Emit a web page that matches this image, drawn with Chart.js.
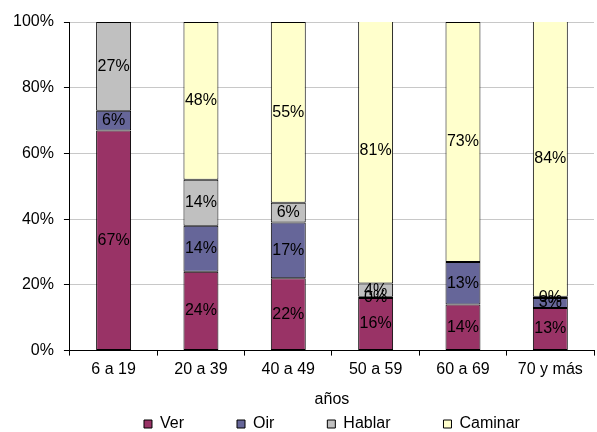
<!DOCTYPE html>
<html>
<head>
<meta charset="utf-8">
<script src="https://cdn.jsdelivr.net/npm/chart.js@4.4.0/dist/chart.umd.min.js"></script>
<style>
  html, body { margin: 0; padding: 0; background: #ffffff; }
  #wrap { width: 597px; height: 432px; }
</style>
</head>
<body>
<div id="wrap"><canvas id="chart" width="597" height="432"></canvas></div>
<script>
const categories = ['6 a 19', '20 a 39', '40 a 49', '50 a 59', '60 a 69', '70 y más'];
const ver = [67, 24, 22, 16, 14, 13];
const oir = [6, 14, 17, 0.4, 13, 3];
const hablar = [27, 14, 6, 4, null, 0.4];
const caminar = [null, 48, 55, 81, 73, 84];
const yTicks = [0, 20, 40, 60, 80, 100];

const FONT = 'Liberation Sans, Arial, sans-serif';
const font = { family: FONT, size: 16 };

// draws the percentage inside each segment
const segmentLabels = {
  id: 'segmentLabels',
  afterDatasetsDraw(chart) {
    const ctx = chart.ctx;
    ctx.save();
    ctx.font = '16px ' + FONT;
    ctx.fillStyle = '#000';
    ctx.textAlign = 'center';
    ctx.textBaseline = 'middle';
    chart.data.datasets.forEach((ds, i) => {
      chart.getDatasetMeta(i).data.forEach((bar, j) => {
        const v = ds.data[j];
        if (v === null) return;
        const mid = (bar.y + bar.base) / 2;
        ctx.fillText(Math.round(v) + '%', bar.x, mid);
      });
    });
    ctx.restore();
  }
};

const common = { borderColor: '#000', borderWidth: 1, borderSkipped: false, barPercentage: 0.4, categoryPercentage: 1 };

new Chart(document.getElementById('chart'), {
  type: 'bar',
  data: {
    labels: categories,
    datasets: [
      { label: 'Ver', data: ver, backgroundColor: '#993366', ...common },
      { label: 'Oir', data: oir, backgroundColor: '#666699', ...common },
      { label: 'Hablar', data: hablar, backgroundColor: '#C0C0C0', ...common },
      { label: 'Caminar', data: caminar, backgroundColor: '#FFFFCC', ...common }
    ]
  },
  options: {
    responsive: false,
    animation: false,
    layout: { padding: { left: 3, right: 3, top: 22, bottom: -10 } },
    plugins: {
      legend: {
        position: 'bottom',
        fullSize: false,
        // axis title "años" sits in the legend title slot
        title: { display: true, text: 'años', color: '#000', font: font, padding: { top: 9, bottom: -48 } },
        labels: {
          color: '#000',
          font: font,
          boxWidth: 8,
          boxHeight: 8,
          padding: 53,
          generateLabels(chart) {
            return chart.data.datasets.map((ds, i) => ({
              text: ds.label,
              fillStyle: ds.backgroundColor,
              strokeStyle: '#000',
              lineWidth: 1,
              datasetIndex: i
            }));
          }
        }
      },
      tooltip: { enabled: false }
    },
    scales: {
      x: {
        stacked: true,
        border: { color: '#000', width: 1 },
        grid: { drawOnChartArea: false, color: '#000', tickLength: 5, offset: true },
        ticks: { color: '#000', font: font, maxRotation: 0, padding: 4 }
      },
      y: {
        stacked: true,
        min: 0,
        max: 100,
        afterBuildTicks(axis) { axis.ticks = yTicks.map(v => ({ value: v })); },
        border: { color: '#000', width: 1 },
        grid: { color: '#c8c8c8', borderDash: [6, 6], tickBorderDash: [], tickColor: '#000', tickLength: 6 },
        ticks: { color: '#000', font: font, padding: 10, callback: v => v + '%' }
      }
    }
  },
  plugins: [segmentLabels]
});
</script>
</body>
</html>
